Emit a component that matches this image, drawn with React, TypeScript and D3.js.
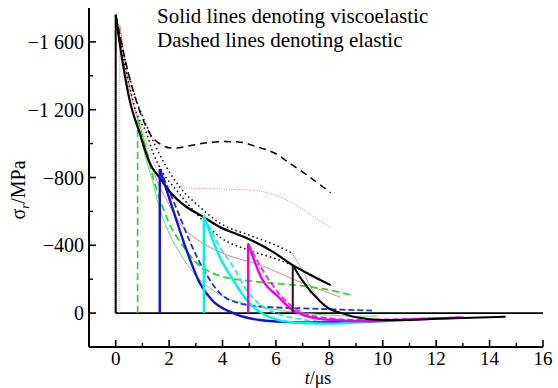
import React from "react";
import * as d3 from "d3";

type P = [number, number];

// ---- data (t in µs, σr in MPa) ----
const xTicksMajor = [0, 2, 4, 6, 8, 10, 12, 14, 16];
const xTicksMinor = [-1, 1, 3, 5, 7, 9, 11, 13, 15];
const yTicksMajor = [-1600, -1200, -800, -400, 0];
const yTickLabels = ["\u22121 600", "\u22121 200", "\u2212800", "\u2212400", "0"];
const yTicksMinor = [-1400, -1000, -600, -200];

const blackSolid: P[] = [[0, -1760], [0.25, -1490], [0.52, -1258], [0.9, -1061], [1.27, -886], [1.65, -797], [2.0, -720], [2.65, -626], [3.2, -575], [3.9, -508], [4.9, -443], [5.9, -360], [6.63, -283], [7.3, -225], [8.05, -165]];
const blackDashed: P[] = [[0, -1760], [0.5, -1400], [1.0, -1150], [1.46, -1022], [2.15, -973], [2.7, -985], [3.27, -1002], [4.0, -1012], [4.6, -1010], [5.3, -980], [6.0, -940], [6.5, -886], [7.2, -810], [8.05, -710]];
const blackDottedUpper: P[] = [[0, -1760], [0.5, -1400], [1.27, -1063], [1.9, -862], [2.4, -744], [3.15, -626], [3.9, -531], [5.0, -460], [6.0, -400], [6.6, -354]];
const blackDottedLower: P[] = [[0, -1760], [0.4, -1420], [0.78, -1181], [1.15, -1063], [1.4, -945], [1.77, -827], [2.27, -726], [3.0, -590], [3.9, -449], [5.0, -370], [6.0, -320], [6.6, -283]];
const greyUnload: P[] = [[6.6, -354], [7.0, -250], [7.3, -154], [7.7, -70], [8.1, -20]];
const pinkDotted: P[] = [[0, -1760], [0.5, -1330], [1.0, -1080], [1.4, -900], [1.7, -790], [1.9, -750], [2.65, -738], [4.0, -732], [5.0, -726], [6.0, -695], [6.6, -650], [7.3, -580], [8.05, -505]];
const salmonVertical: P[] = [[0.15, 0], [0.15, -1700]];
const salmonSolid: P[] = [[0.15, -1700], [0.5, -1350], [1.0, -1050], [1.5, -800], [2.0, -640], [2.4, -530], [3.0, -440], [3.9, -360], [5.4, -283], [7.0, -177], [8.4, -95]];

const greenVertical: P[] = [[0.82, 0], [0.82, -1140]];
const greenDashed: P[] = [[0.82, -1140], [1.1, -990], [1.4, -800], [1.7, -650], [2.0, -530], [2.5, -400], [3.0, -300], [3.5, -245], [4.0, -215], [5.0, -190], [6.0, -175], [7.0, -160], [8.0, -136], [8.8, -106]];
const greenThin: P[] = [[0.82, -1140], [1.1, -930], [1.4, -768], [1.6, -640], [2.0, -470], [2.5, -330], [3.0, -220], [3.5, -150], [4.0, -100], [5.0, -50], [6.0, -20], [7.0, 0], [8.0, 12], [9.0, 18], [9.8, 18]];

const blueVertical: P[] = [[1.65, 0], [1.65, -850]];
const blueSolid: P[] = [[1.65, -850], [2.15, -608], [2.65, -372], [3.15, -177], [3.6, -77], [4.4, 0], [5.4, 41], [6.5, 53], [7.5, 55], [8.5, 52], [9.6, 45]];
const blueDashed: P[] = [[1.65, -850], [2.3, -608], [2.8, -413], [3.3, -254], [3.9, -118], [4.6, -59], [5.5, -38], [7.0, -28], [8.5, -20], [9.6, -15]];

const cyanVertical: P[] = [[3.3, 0], [3.3, -575]];
const cyanSolid: P[] = [[3.3, -575], [3.9, -330], [4.4, -195], [4.9, -77], [5.4, -6], [6.1, 41], [7.0, 58], [8.0, 62], [9.5, 52], [11.1, 41]];
const cyanDashed: P[] = [[3.3, -575], [3.9, -390], [4.4, -272], [4.9, -136], [5.4, -50], [6.0, 0], [7.0, 38], [8.0, 52], [9.5, 48], [11.0, 36]];

const magentaVertical: P[] = [[4.96, 0], [4.96, -410]];
const magentaSolid: P[] = [[4.96, -410], [5.5, -195], [6.1, -95], [6.6, -20], [7.0, 10], [8.1, 41], [9.5, 48], [11.0, 38], [13.0, 26]];
const magentaDashed: P[] = [[4.96, -410], [5.5, -254], [6.1, -118], [6.6, -40], [7.5, 20], [9.0, 40], [11.0, 34], [13.0, 25]];

const darkVertical: P[] = [[6.63, 0], [6.63, -283]];
const blackSecond: P[] = [[6.63, -283], [7.0, -190], [7.6, -77], [8.0, -25], [8.4, -3], [9.0, 25], [10.0, 40], [11.0, 40], [12.0, 34], [13.0, 29], [14.6, 22]];
const zeroLine: P[] = [[0, 0], [16, 0]];
const originVertical: P[] = [[0, 0], [0, -1760]];

// ---- layout ----
const W = 558;
const H = 388;
const x = d3.scaleLinear().domain([-1, 16]).range([89, 543]);
const y = d3.scaleLinear().domain([-1800, 200]).range([8, 347]);
const FONT = "'Liberation Serif', 'Times New Roman', serif";

type S = { d: P[]; c: string; w: number; dash?: string; curve?: boolean };

const series: S[] = [
  { d: zeroLine, c: "#000", w: 1.6 },
  { d: salmonVertical, c: "#e0a0a0", w: 1, dash: "1,1" },
  { d: salmonSolid, c: "#e08878", w: 1, curve: true },
  { d: pinkDotted, c: "#d88a8a", w: 1, dash: "1,1.5", curve: true },
  { d: greenThin, c: "#66dd66", w: 1, curve: true },
  { d: blackDottedUpper, c: "#000", w: 1.5, dash: "1.5,3", curve: true },
  { d: blackDottedLower, c: "#000", w: 1.5, dash: "1.5,3", curve: true },
  { d: greyUnload, c: "#c4a4a4", w: 1, curve: true },
  { d: blackDashed, c: "#000", w: 1.5, dash: "7,5", curve: true },
  { d: greenDashed, c: "#22dd22", w: 1.8, dash: "7,4", curve: true },
  { d: blueDashed, c: "#2233dd", w: 1.8, dash: "6,3", curve: true },
  { d: cyanDashed, c: "#22eeee", w: 1.8, dash: "6,3", curve: true },
  { d: magentaDashed, c: "#ee22ee", w: 1.8, dash: "6,3", curve: true },
  { d: greenVertical, c: "#22dd22", w: 1.6, dash: "7,4" },
  { d: blackSolid, c: "#000", w: 2.2, curve: true },
  { d: blueSolid, c: "#1010e8", w: 2.4, curve: true },
  { d: cyanSolid, c: "#00f0f0", w: 2.4, curve: true },
  { d: magentaSolid, c: "#f000e8", w: 2.4, curve: true },
  { d: blackSecond, c: "#000", w: 2, curve: true },
  { d: blueVertical, c: "#1010e8", w: 2.4 },
  { d: cyanVertical, c: "#00f0f0", w: 2.4 },
  { d: magentaVertical, c: "#f000e8", w: 2.4 },
  { d: darkVertical, c: "#301010", w: 2 },
  { d: originVertical, c: "#000", w: 2 },
];

export default function App() {
  const lineCurve = d3.line<P>().x((p) => x(p[0])).y((p) => y(p[1])).curve(d3.curveMonotoneX);
  const lineStraight = d3.line<P>().x((p) => x(p[0])).y((p) => y(p[1]));
  const x0 = x(-1);
  const yb = y(200);
  return (
    <svg width={W} height={H} style={{ position: "absolute", left: 0, top: 0, background: "#fff" }} fontFamily={FONT}>
      {series.map((s, i) => (
        <path key={i} d={(s.curve ? lineCurve : lineStraight)(s.d) || ""} fill="none" stroke={s.c} strokeWidth={s.w} strokeDasharray={s.dash} />
      ))}
      {/* axes */}
      <line x1={x0} x2={x0} y1={y(-1800)} y2={yb} stroke="#000" strokeWidth={2} />
      <line x1={x0} x2={x(16)} y1={yb} y2={yb} stroke="#000" strokeWidth={2} />
      {yTicksMajor.map((v, i) => (
        <g key={"ym" + v}>
          <line x1={x0} x2={x0 + 7} y1={y(v)} y2={y(v)} stroke="#000" strokeWidth={1.6} />
          <text x={x0 - 5} y={y(v)} dy="0.35em" textAnchor="end" fontSize={20}>{yTickLabels[i]}</text>
        </g>
      ))}
      {yTicksMinor.map((v) => (
        <line key={"yn" + v} x1={x0} x2={x0 + 4} y1={y(v)} y2={y(v)} stroke="#000" strokeWidth={1.4} />
      ))}
      {xTicksMajor.map((v) => (
        <g key={"xm" + v}>
          <line x1={x(v)} x2={x(v)} y1={yb} y2={yb - 7} stroke="#000" strokeWidth={1.6} />
          <text x={x(v)} y={365} textAnchor="middle" fontSize={19}>{v}</text>
        </g>
      ))}
      {xTicksMinor.map((v) => (
        <line key={"xn" + v} x1={x(v)} x2={x(v)} y1={yb} y2={yb - 4} stroke="#000" strokeWidth={1.4} />
      ))}
      <text x={318} y={384} textAnchor="middle" fontSize={18}>
        <tspan fontStyle="italic">t</tspan>/μs
      </text>
      <text transform="translate(25,190) rotate(-90)" textAnchor="middle" fontSize={20}>
        σ<tspan fontStyle="italic" fontSize={13} dy="4">r</tspan><tspan dy="-4">/MPa</tspan>
      </text>
      <text x={157} y={23} fontSize={21}>Solid lines denoting viscoelastic</text>
      <text x={157} y={47} fontSize={21}>Dashed lines denoting elastic</text>
    </svg>
  );
}
